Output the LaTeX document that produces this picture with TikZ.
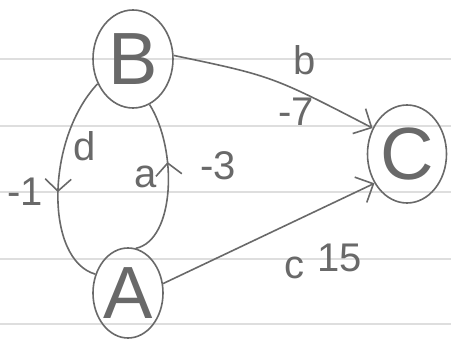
\documentclass[tikz,border=0pt]{standalone}
\usepackage{fontspec}
\setmainfont{Liberation Sans}
\usetikzlibrary{arrows.meta,decorations.markings,shapes.geometric}
\definecolor{pencil}{RGB}{105,105,105}
\definecolor{paperrule}{RGB}{222,222,222}
\begin{document}
\begin{tikzpicture}[x=1pt,y=-1pt,
  vert/.style={draw=pencil,ellipse,line width=1.6pt,inner sep=0pt,text=pencil,font=\fontsize{74}{74}\selectfont},
  edge/.style={draw=pencil,line width=1.6pt},
  tip/.style={-{Straight Barb[length=14pt,width=28pt,line width=1.6pt]}},
  lbl/.style={text=pencil,font=\fontsize{40}{40}\selectfont,inner sep=0pt},
  midarrow/.style={postaction={decorate},decoration={markings,
    mark=at position #1 with {\arrow{Straight Barb[length=12pt,width=26pt,line width=1.6pt]}}}}
]
\useasboundingbox[fill=white] (0,0) rectangle (451,339);
\foreach \yy in {59,126,192,259,324}
  \draw[paperrule,line width=1.2pt] (0,\yy) -- (451,\yy);

\node[vert,minimum width=80pt,minimum height=98pt] (B) at (133,59) {B};
\node[vert,minimum width=79pt,minimum height=98pt] (C) at (407,154) {C};
\node[vert,minimum width=70pt,minimum height=90pt] (A) at (128,293) {A};

% B -> C
\draw[edge,tip] (B.5) .. controls (272,76) .. (C.143);
% A -> C
\draw[edge,tip] (A.15) -- (C.222);
% B -> A (left, d)
\draw[edge,midarrow=0.55] (B.215) .. controls (45,140) and (45,260) .. (A.150);
% A -> B (right, a)
\draw[edge,midarrow=0.62] (A.80) .. controls (175,240) and (178,150) .. (B.290);

\node[lbl] (lb) at (305,60) {b};
\node[lbl] (l7) at (296,112) {-7};
\node[lbl] (lc) at (294,268) {c};
\node[lbl] (l15) at (340,258) {15};
\node[lbl] (l1) at (25,192) {-1};
\node[lbl] (ld) at (85,146) {d};
\node[lbl] (la) at (146,177) {a};
\node[lbl] (l3) at (218,166) {-3};
\end{tikzpicture}
\end{document}
